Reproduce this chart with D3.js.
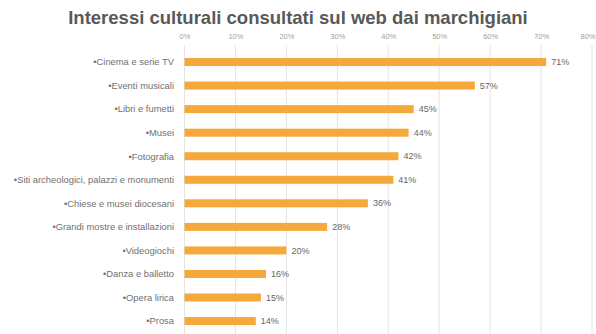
<!DOCTYPE html>
<html>
<head>
<meta charset="utf-8">
<script src="https://cdn.jsdelivr.net/npm/d3@7/dist/d3.min.js"></script>
<style>
  html, body { margin: 0; padding: 0; background: #fff; }
  svg { display: block; font-family: "Liberation Sans", Arial, sans-serif; }
</style>
</head>
<body>
<svg id="chart" width="596" height="334"></svg>
<script>
const categories = [
  "Cinema e serie TV",
  "Eventi musicali",
  "Libri e fumetti",
  "Musei",
  "Fotografia",
  "Siti archeologici, palazzi e monumenti",
  "Chiese e musei diocesani",
  "Grandi mostre e installazioni",
  "Videogiochi",
  "Danza e balletto",
  "Opera lirica",
  "Prosa"
];
const values = [71, 57, 45, 44, 42, 41, 36, 28, 20, 16, 15, 14];
const tickValues = [0, 10, 20, 30, 40, 50, 60, 70, 80];

const svg = d3.select("#chart");
const W = 596, H = 334;

const x = d3.scaleLinear().domain([0, 80]).range([184.5, 592]);
const y = d3.scaleBand().domain(categories).range([42.5, 340.6])
  .paddingInner(0.66).paddingOuter(0.66);

// Title
svg.append("text")
  .attr("x", 298).attr("y", 24)
  .attr("text-anchor", "middle")
  .attr("font-size", 18.5)
  .attr("font-weight", "bold")
  .attr("fill", "#595959")
  .text("Interessi culturali consultati sul web dai marchigiani");

// Vertical gridlines
svg.append("g").selectAll("line").data(tickValues).join("line")
  .attr("x1", d => x(d)).attr("x2", d => x(d))
  .attr("y1", 45).attr("y2", H)
  .attr("stroke", "#e4e4e4").attr("stroke-width", 1);

// Top axis labels
const axis = d3.axisTop(x).tickValues(tickValues).tickFormat(d => d + "%").tickSize(0);
const gAxis = svg.append("g").attr("transform", "translate(0,42)").call(axis);
gAxis.select(".domain").remove();
gAxis.selectAll("text")
  .attr("font-size", 7.5).attr("fill", "#a0a0a0")
  .attr("font-family", "Liberation Sans, Arial, sans-serif");
// last label sits against the right edge
gAxis.selectAll(".tick").filter(d => d === 80).select("text")
  .attr("text-anchor", "end").attr("dx", 3);

// Bars
svg.append("g").selectAll("rect").data(values).join("rect")
  .attr("x", x(0))
  .attr("y", (d, i) => y(categories[i]))
  .attr("width", d => x(d) - x(0))
  .attr("height", y.bandwidth())
  .attr("fill", "#f5a83c");

// Category labels
svg.append("g").selectAll("text").data(categories).join("text")
  .attr("x", 174)
  .attr("y", d => y(d) + y.bandwidth() / 2)
  .attr("dy", "0.35em")
  .attr("text-anchor", "end")
  .attr("font-size", 9.4)
  .attr("fill", "#707070")
  .text(d => "\u2022" + d);

// Value labels
svg.append("g").selectAll("text").data(values).join("text")
  .attr("x", d => x(d) + 5)
  .attr("y", (d, i) => y(categories[i]) + y.bandwidth() / 2)
  .attr("dy", "0.35em")
  .attr("font-size", 9)
  .attr("fill", "#666")
  .text(d => d + "%");
</script>
</body>
</html>
